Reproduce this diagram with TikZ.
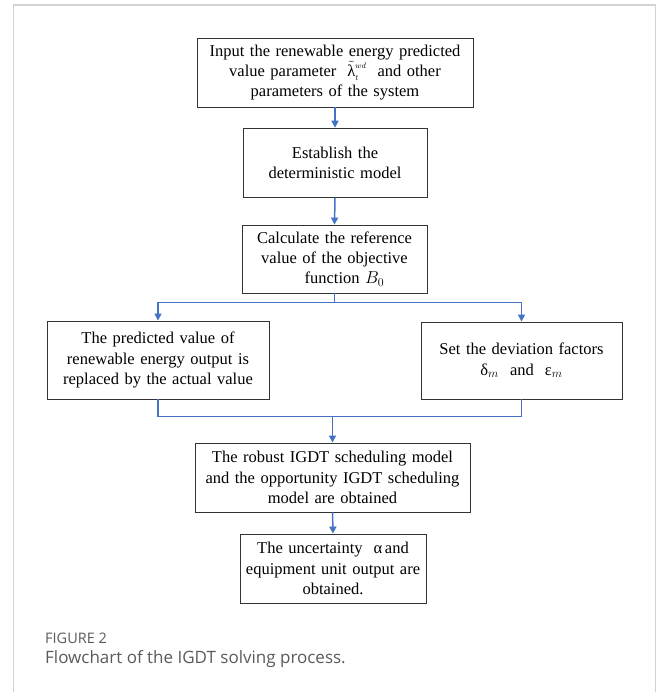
\documentclass[tikz,border=0pt]{standalone}
\usepackage{fontspec}
\setmainfont{Liberation Serif}
\newfontfamily\didafont{Open Sans}
\usepackage{tikz}
\usetikzlibrary{arrows.meta}

\definecolor{blu}{HTML}{4472C4}
\definecolor{cornice}{HTML}{D2D2D2}
\definecolor{grigio}{HTML}{5A5A5A}

\tikzset{
  blocco/.style={draw=black!80, line width=0.9pt, align=center, inner xsep=4pt, inner ysep=0pt,
    font=\fontsize{16.5}{20.3}\selectfont},
  linea/.style={draw=blu, line width=1.5pt},
  freccia/.style={linea, -{Triangle[length=7pt,width=7pt]}}
}

\begin{document}
\begin{tikzpicture}[x=1pt,y=-1pt]
  \useasboundingbox (0,0) rectangle (658,692);

  % cornice
  \draw[cornice, line width=1.5pt] (13.5,692) -- (13.5,5) -- (655.5,5) -- (655.5,692);

  % blocchi
  \node[blocco, text width=268pt, minimum height=69pt] (input) at (335,72.5)
    {Input the renewable energy predicted\\value parameter \ $\tilde{\mbox{λ}}_{\scriptscriptstyle t}^{\raisebox{-0.4ex}{$\scriptscriptstyle wd$}}$ \ and other\\parameters of the system};
  \node[blocco, text width=176pt, minimum height=69pt] (modello) at (335,162.7)
    {Establish the\\deterministic model};
  \node[blocco, text width=177pt, minimum height=68pt] (riferimento) at (334.5,259)
    {Calculate the reference\\value of the objective\\\hspace*{20pt}function $B_0$};
  \node[blocco, text width=214pt, minimum height=78pt] (sostituzione) at (158,360)
    {The predicted value of\\renewable energy output is\\replaced by the actual value};
  \node[blocco, text width=193pt, minimum height=77pt] (deviazione) at (521.5,360.5)
    {Set the deviation factors\\$\mbox{δ}_m$ \ and \ $\mbox{ε}_m$};
  \node[blocco, text width=267pt, minimum height=69pt] (igdt) at (332.5,477.5)
    {The robust IGDT scheduling model\\and the opportunity IGDT scheduling\\model are obtained};
  \node[blocco, text width=178pt, minimum height=69pt] (incertezza) at (333,568.5)
    {The uncertainty \ \mbox{α}\,and\\equipment unit output are\\obtained.};

  % frecce
  \coordinate (bivio) at (334.5,302.7);
  \coordinate (unione) at (332.5,416.7);
  \draw[freccia] (input.south) -- (modello.north);
  \draw[freccia] (modello.south) -- (riferimento.north);
  \draw[linea] (riferimento.south) -- (bivio);
  \draw[freccia] (bivio) -| (sostituzione.north);
  \draw[freccia] (bivio) -| (deviazione.north);
  \draw[linea] (sostituzione.south) |- (unione);
  \draw[linea] (deviazione.south) |- (unione);
  \draw[freccia] (unione) -- (igdt.north);
  \draw[freccia] (igdt.south) -- (incertezza.north);

  % didascalia
  \node[anchor=base west, inner sep=0pt, text=grigio, font=\didafont\fontsize{14.5}{16}\selectfont]
    (figura) at (45,643.5) {FIGURE 2};
  \node[anchor=base west, inner sep=0pt, text=grigio, font=\didafont\fontsize{17}{20}\selectfont]
    (didascalia) at (45,663) {Flowchart of the IGDT solving process.};
\end{tikzpicture}
\end{document}
